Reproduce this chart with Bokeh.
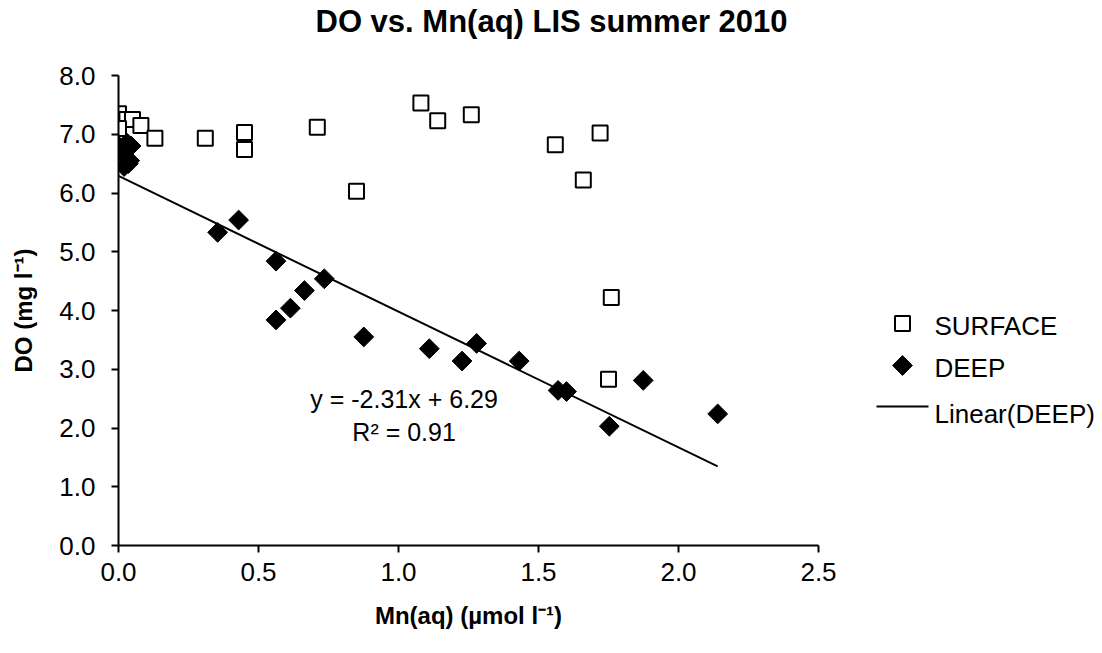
import numpy as np
from bokeh.plotting import figure
from bokeh.layouts import row
from bokeh.models import Label, NumeralTickFormatter, FixedTicker, Range1d
from bokeh.core.properties import value
from bokeh.embed import file_html
from bokeh.resources import INLINE

# ---- data ----
surf_x = [0.00, 0.01, 0.03, 0.05, 0.08, 0.00, 0.13, 0.31, 0.45, 0.45, 0.71, 0.85,
          1.08, 1.14, 1.26, 1.56, 1.66, 1.72, 1.76, 1.75]
surf_y = [7.35, 7.25, 7.25, 7.25, 7.15, 7.10, 6.93, 6.93, 7.03, 6.74, 7.12, 6.03,
          7.53, 7.23, 7.33, 6.82, 6.22, 7.02, 4.22, 2.83]

deep_x = [0.00, 0.01, 0.03, 0.045, 0.02, 0.035, 0.04, 0.354, 0.429, 0.5625, 0.735, 0.664,
          0.614, 0.5625, 0.876, 1.11, 1.227, 1.279, 1.431, 1.57, 1.60, 1.753, 1.874, 2.14]
deep_y = [6.80, 6.70, 6.85, 6.80, 6.45, 6.50, 6.55, 5.33, 5.54, 4.84, 4.54, 4.34,
          4.04, 3.84, 3.55, 3.35, 3.14, 3.44, 3.14, 2.64, 2.62, 2.03, 2.81, 2.24]

trend_slope = -2.31
trend_intercept = 6.29
trend_r2 = 0.91

x_ticks = [0.0, 0.5, 1.0, 1.5, 2.0, 2.5]
y_ticks = [0, 1, 2, 3, 4, 5, 6, 7, 8]

title_text = "DO vs. Mn(aq) LIS summer 2010"
x_label = "Mn(aq) (\u00b5mol l\u207b\u00b9)"
y_label = "DO (mg l\u207b\u00b9)"
series_names = ["SURFACE", "DEEP", "Linear(DEEP)"]

FONT = "Liberation Sans"
W, H = 1102, 653
MAIN_W = 840
FRAME_TOP, FRAME_BOTTOM = 75, 545

# ---------------- main chart ----------------
p = figure(width=MAIN_W, height=H, output_backend="svg", toolbar_location=None,
           x_range=Range1d(x_ticks[0], x_ticks[-1]), y_range=Range1d(y_ticks[0], y_ticks[-1]),
           min_border_left=118, min_border_right=MAIN_W - 818, min_border_top=FRAME_TOP,
           min_border_bottom=H - FRAME_BOTTOM)
p.outline_line_color = None
p.grid.visible = False
p.background_fill_color = "white"
p.border_fill_color = "white"

# a blank second line reserves height so the title sits near the top of the canvas
p.title.text = title_text + "\n "
p.title.text_font = FONT
p.title.text_font_size = "31px"
p.title.text_font_style = "bold"
p.title.text_color = "black"
p.title.align = "left"
p.title.offset = 197
p.title.vertical_align = "top"
p.title.standoff = 0

for ax in (p.xaxis[0], p.yaxis[0]):
    ax.axis_line_width = 2
    ax.axis_line_color = "black"
    ax.major_tick_line_width = 2
    ax.major_tick_line_color = "black"
    ax.major_tick_out = 7
    ax.major_tick_in = 0
    ax.minor_tick_line_color = None
    ax.major_label_text_font = FONT
    ax.major_label_text_font_size = "26px"
    ax.major_label_text_color = "black"
    ax.axis_label_text_font = FONT
    ax.axis_label_text_font_style = "bold"
    ax.axis_label_text_font_size = "24px"
    ax.axis_label_text_color = "black"
    ax.formatter = NumeralTickFormatter(format="0.0")

p.xaxis[0].ticker = FixedTicker(ticks=x_ticks)
p.yaxis[0].ticker = FixedTicker(ticks=y_ticks)
p.xaxis[0].axis_label = x_label
p.yaxis[0].axis_label = y_label
p.xaxis[0].major_label_standoff = 10
p.yaxis[0].major_label_standoff = 16
p.xaxis[0].axis_label_standoff = 18
p.yaxis[0].axis_label_standoff = 19

SURF_STYLE = dict(marker="square", size=15, fill_color="white", line_color="black", line_width=2)
DEEP_STYLE = dict(marker="square", angle=np.pi / 4, size=14, fill_color="black",
                  line_color="black", line_width=1)
LINE_STYLE = dict(line_color="black", line_width=2)

p.scatter(surf_x, surf_y, **SURF_STYLE)
p.scatter(deep_x, deep_y, **DEEP_STYLE)
tx = np.array([min(deep_x), max(deep_x)])
p.line(tx, trend_slope * tx + trend_intercept, **LINE_STYLE)

eq1 = Label(x=1.02, y=2.50, text=f"y = {trend_slope:.2f}x + {trend_intercept:.2f}",
            text_align="center", text_baseline="alphabetic",
            text_font=FONT, text_font_size="25px", text_color="black")
eq2 = Label(x=1.02, y=1.94, text=f"R\u00b2 = {trend_r2:.2f}",
            text_align="center", text_baseline="alphabetic",
            text_font=FONT, text_font_size="25px", text_color="black")
p.add_layout(eq1)
p.add_layout(eq2)

# ---------------- legend panel (frame aligned with main frame; y in canvas px, downwards) ----
lg = figure(width=W - MAIN_W, height=H, output_backend="svg", toolbar_location=None,
            x_range=Range1d(MAIN_W, W), y_range=Range1d(FRAME_BOTTOM, FRAME_TOP),
            x_axis_location=None, y_axis_location=None,
            min_border_left=0, min_border_right=0, min_border_top=FRAME_TOP,
            min_border_bottom=H - FRAME_BOTTOM)
lg.outline_line_color = None
lg.grid.visible = False
lg.background_fill_color = "white"
lg.border_fill_color = "white"

leg_x0, leg_y0, leg_dy = 876, 323, 42
glyph_w, text_gap = 52, 6
gx = leg_x0 + glyph_w / 2
lg.scatter([gx], [leg_y0], **SURF_STYLE)
lg.scatter([gx], [leg_y0 + leg_dy], **DEEP_STYLE)
lg.line([leg_x0, leg_x0 + glyph_w], [leg_y0 + 2 * leg_dy - 1] * 2, **LINE_STYLE)
lg.text(x=[leg_x0 + glyph_w + text_gap] * 3,
        y=[leg_y0 + 2, leg_y0 + leg_dy + 2, leg_y0 + 2 * leg_dy + 6],
        text=series_names, text_font=value(FONT), text_font_size="26px",
        text_color="black", text_baseline="middle", text_align="left")

layout = row(p, lg, spacing=0)
open("out.html", "w").write(file_html(layout, INLINE))
